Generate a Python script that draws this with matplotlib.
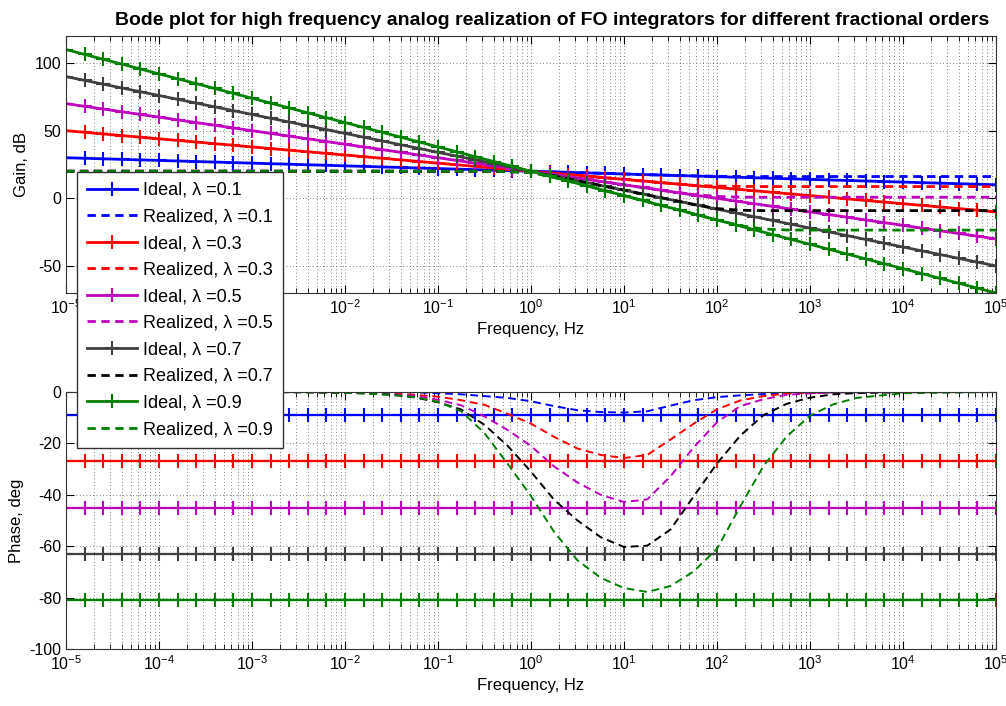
import numpy as np
import matplotlib
matplotlib.use("Agg")
import matplotlib.pyplot as plt
from matplotlib.ticker import LogLocator, NullFormatter, FixedLocator

plt.rcParams['font.family'] = ['Liberation Sans', 'DejaVu Sans']
plt.rcParams['axes.unicode_minus'] = False
plt.rcParams['mathtext.default'] = 'regular'

# Fractional orders and colours
orders = [0.1, 0.3, 0.5, 0.7, 0.9]
ideal_colors = ['#0000ff', '#ff0000', '#bf00bf', '#404040', '#008000']
real_colors = ['#0000ff', '#ff0000', '#bf00bf', '#000000', '#008000']

# Ideal curves: markers every 0.2 decade from 1e-5 to 1e5
freq_ideal = np.logspace(-5, 5, 51)

gain_ideal_01 = [30.0, 29.6, 29.2, 28.8, 28.4, 28.0, 27.6, 27.2, 26.8, 26.4,
                 26.0, 25.6, 25.2, 24.8, 24.4, 24.0, 23.6, 23.2, 22.8, 22.4,
                 22.0, 21.6, 21.2, 20.8, 20.4, 20.0, 19.6, 19.2, 18.8, 18.4,
                 18.0, 17.6, 17.2, 16.8, 16.4, 16.0, 15.6, 15.2, 14.8, 14.4,
                 14.0, 13.6, 13.2, 12.8, 12.4, 12.0, 11.6, 11.2, 10.8, 10.4, 10.0]
gain_ideal_03 = [50.0, 48.8, 47.6, 46.4, 45.2, 44.0, 42.8, 41.6, 40.4, 39.2,
                 38.0, 36.8, 35.6, 34.4, 33.2, 32.0, 30.8, 29.6, 28.4, 27.2,
                 26.0, 24.8, 23.6, 22.4, 21.2, 20.0, 18.8, 17.6, 16.4, 15.2,
                 14.0, 12.8, 11.6, 10.4, 9.2, 8.0, 6.8, 5.6, 4.4, 3.2,
                 2.0, 0.8, -0.4, -1.6, -2.8, -4.0, -5.2, -6.4, -7.6, -8.8, -10.0]
gain_ideal_05 = [70, 68, 66, 64, 62, 60, 58, 56, 54, 52,
                 50, 48, 46, 44, 42, 40, 38, 36, 34, 32,
                 30, 28, 26, 24, 22, 20, 18, 16, 14, 12,
                 10, 8, 6, 4, 2, 0, -2, -4, -6, -8,
                 -10, -12, -14, -16, -18, -20, -22, -24, -26, -28, -30]
gain_ideal_07 = [90.0, 87.2, 84.4, 81.6, 78.8, 76.0, 73.2, 70.4, 67.6, 64.8,
                 62.0, 59.2, 56.4, 53.6, 50.8, 48.0, 45.2, 42.4, 39.6, 36.8,
                 34.0, 31.2, 28.4, 25.6, 22.8, 20.0, 17.2, 14.4, 11.6, 8.8,
                 6.0, 3.2, 0.4, -2.4, -5.2, -8.0, -10.8, -13.6, -16.4, -19.2,
                 -22.0, -24.8, -27.6, -30.4, -33.2, -36.0, -38.8, -41.6, -44.4, -47.2, -50.0]
gain_ideal_09 = [110.0, 106.4, 102.8, 99.2, 95.6, 92.0, 88.4, 84.8, 81.2, 77.6,
                 74.0, 70.4, 66.8, 63.2, 59.6, 56.0, 52.4, 48.8, 45.2, 41.6,
                 38.0, 34.4, 30.8, 27.2, 23.6, 20.0, 16.4, 12.8, 9.2, 5.6,
                 2.0, -1.6, -5.2, -8.8, -12.4, -16.0, -19.6, -23.2, -26.8, -30.4,
                 -34.0, -37.6, -41.2, -44.8, -48.4, -52.0, -55.6, -59.2, -62.8, -66.4, -70.0]

phase_ideal = [-9.0, -27.0, -45.0, -63.0, -81.0]

# Realized curves, sampled on this grid of log10(frequency)
log_f_real = [-5, -3, -2.5, -2, -1.75, -1.5, -1.25, -1, -0.75, -0.5, -0.25, 0,
              0.25, 0.5, 0.75, 1, 1.25, 1.5, 1.75, 2, 2.25, 2.5, 2.75, 3,
              3.25, 3.5, 4, 5]

gain_real_01 = [20, 20, 20, 20, 20, 20, 20, 20, 20, 20, 19.9, 19.7,
                19.4, 19.0, 18.5, 18.0, 17.5, 17.0, 16.6, 16.3, 16.1, 16.1, 16.1, 16.1,
                16.1, 16.1, 16.1, 16.1]
gain_real_03 = [20, 20, 20, 20, 20, 20, 20, 20, 20, 20, 19.9, 19.5,
                18.3, 17.0, 15.5, 14.0, 12.5, 11.0, 9.6, 9.0, 8.8, 8.7, 8.7, 8.7,
                8.7, 8.7, 8.7, 8.7]
gain_real_05 = [20, 20, 20, 20, 20, 20, 20, 20, 20, 20, 19.8, 19.3,
                17.4, 15.0, 12.5, 10.0, 7.5, 5.0, 2.8, 1.4, 0.9, 0.8, 0.8, 0.8,
                0.8, 0.8, 0.8, 0.8]
gain_real_07 = [20, 20, 20, 20, 20, 20, 20, 20, 20, 20, 19.8, 19.2,
                16.4, 13.0, 9.5, 6.0, 2.5, -1.0, -4.5, -7.6, -8.8, -9.1, -9.1, -9.1,
                -9.1, -9.1, -9.1, -9.1]
gain_real_09 = [20, 20, 20, 20, 20, 20, 20, 20, 20, 20, 19.7, 19.0,
                15.4, 11.0, 6.5, 2.0, -2.5, -7.0, -11.5, -16.0, -20.2, -22.7, -23.4, -23.5,
                -23.5, -23.5, -23.5, -23.5]

phase_real_01 = [0, 0, 0, 0, 0, 0, -0.1, -0.5, -0.9, -1.6, -2.3, -3.6,
                 -5.5, -7.1, -7.8, -8.0, -7.5, -5.3, -3.2, -2.0, -1.3, -0.8, -0.5, -0.3,
                 -0.2, -0.1, 0, 0]
phase_real_03 = [0, 0, 0, -0.1, -0.3, -0.6, -1.1, -1.8, -3.2, -5.0, -8.5, -12.3,
                 -17.5, -22.0, -24.5, -25.7, -24.5, -18.5, -12.3, -6.7, -3.3, -1.6, -0.6, -0.2,
                 -0.1, 0, 0, 0]
phase_real_05 = [0, 0, 0, -0.2, -0.4, -0.8, -1.5, -3.0, -5.2, -9.5, -14.8, -21.0,
                 -29.0, -35.2, -40.0, -42.8, -41.8, -32.8, -21.5, -11.8, -5.5, -2.8, -1.1, -0.5,
                 -0.2, -0.1, 0, 0]
phase_real_07 = [0, 0, -0.1, -0.3, -0.6, -1.1, -2.1, -4.0, -6.8, -12.8, -21.0, -31.0,
                 -42.0, -50.0, -56.5, -60.3, -59.8, -53.5, -40.6, -27.8, -17.0, -9.0, -4.6, -2.2,
                 -0.9, -0.4, -0.1, 0]
phase_real_09 = [0, 0, -0.1, -0.3, -0.6, -1.1, -2.0, -3.8, -7.5, -16.0, -28.0, -40.5,
                 -54.5, -65.5, -72.3, -76.3, -77.8, -75.5, -69.8, -61.0, -44.5, -28.8, -17.3, -9.2,
                 -4.8, -2.3, -0.5, 0]

gain_ideal = [gain_ideal_01, gain_ideal_03, gain_ideal_05, gain_ideal_07, gain_ideal_09]
gain_real = [gain_real_01, gain_real_03, gain_real_05, gain_real_07, gain_real_09]
phase_real = [phase_real_01, phase_real_03, phase_real_05, phase_real_07, phase_real_09]
freq_real = 10.0 ** np.array(log_f_real)

W, H = 1006, 706
fig = plt.figure(figsize=(W / 100, H / 100), dpi=100)
ax1 = fig.add_axes([66 / W, 1 - 293 / H, 930 / W, 257 / H])
ax2 = fig.add_axes([66 / W, 1 - 649 / H, 930 / W, 257 / H])

handles = []
for i, lam in enumerate(orders):
    h1, = ax1.semilogx(freq_ideal, gain_ideal[i], '-', marker='+', color=ideal_colors[i],
                       lw=2.0, ms=10, mew=1.5, label='Ideal, λ =%.1f' % lam)
    h2, = ax1.semilogx(freq_real, gain_real[i], '--', color=real_colors[i],
                       lw=2.0, dashes=(3, 2), label='Realized, λ =%.1f' % lam)
    ax2.semilogx(freq_ideal, [phase_ideal[i]] * len(freq_ideal), '-', marker='+',
                 color=ideal_colors[i], lw=1.6, ms=10, mew=1.5)
    ax2.semilogx(freq_real, phase_real[i], '--', color=real_colors[i],
                 lw=1.4, dashes=(4, 2.5))
    handles += [h1, h2]

for ax in (ax1, ax2):
    ax.set_xlim(1e-5, 1e5)
    ax.xaxis.set_major_locator(LogLocator(base=10, numticks=20))
    ax.xaxis.set_minor_locator(LogLocator(base=10, subs=np.arange(2, 10), numticks=200))
    ax.xaxis.set_minor_formatter(NullFormatter())
    ax.grid(True, which='major', axis='both', linestyle=(0, (1, 3)), color='0.35', lw=0.6)
    ax.grid(True, which='minor', axis='x', linestyle=(0, (1, 3)), color='0.35', lw=0.6)
    ax.tick_params(which='both', direction='in', top=True, right=True, labelsize=11.5)
    ax.tick_params(which='major', length=6)
    ax.tick_params(which='minor', length=3.5)
    for s in ax.spines.values():
        s.set_color('0.2')
    ax.set_xlabel('Frequency, Hz', fontsize=12)

ax1.set_ylim(-70, 120)
ax1.yaxis.set_major_locator(FixedLocator([-50, 0, 50, 100]))
ax1.set_ylabel('Gain, dB', fontsize=12)
ax2.set_ylim(-100, 0)
ax2.yaxis.set_major_locator(FixedLocator([-100, -80, -60, -40, -20, 0]))
ax2.set_ylabel('Phase, deg', fontsize=12)

ax1.set_title('Bode plot for high frequency analog realization of FO integrators for different fractional orders',
              fontsize=14, fontweight='bold', x=0.5226, pad=8)

leg = fig.legend(handles=handles, loc='upper left', bbox_to_anchor=(77 / W, 1 - 172 / H),
                 fontsize=13, handlelength=2.8, labelspacing=0.53, borderpad=0.55,
                 handletextpad=0.3, fancybox=False, framealpha=1, edgecolor='0.2',
                 borderaxespad=0)
leg.get_frame().set_linewidth(1.0)

fig.savefig('out.png', dpi=100)
